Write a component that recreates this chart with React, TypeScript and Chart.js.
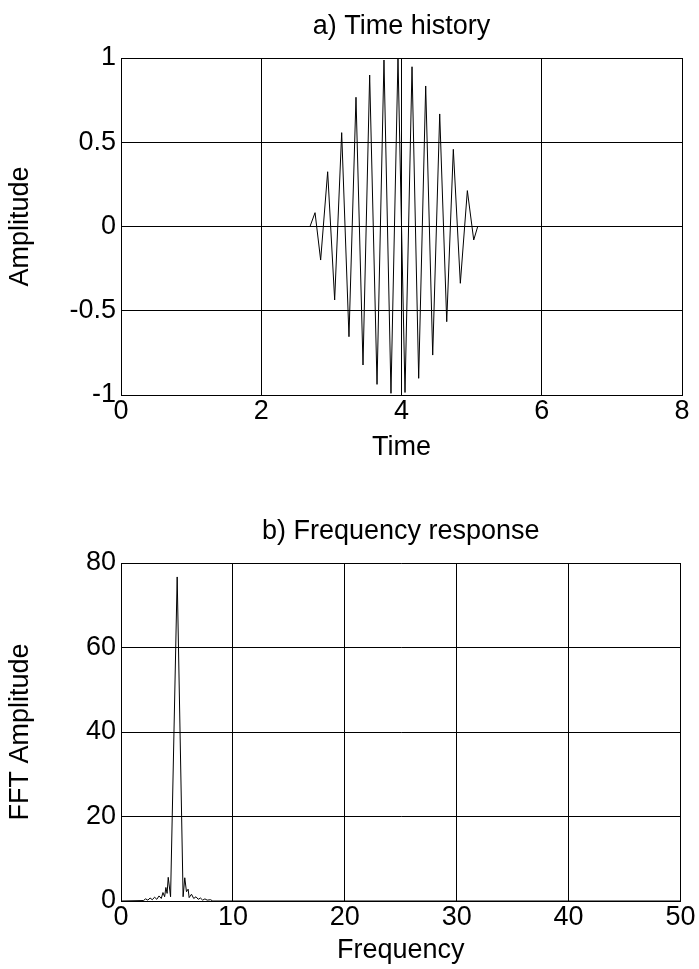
import React, { useEffect, useRef } from "react";
import { Chart, registerables } from "chart.js";

Chart.register(...registerables);

// ---- Data ----
// a) Time history: tone burst (time, amplitude) – extremes
const timeValues = [
  0, 2.695, 2.767, 2.847, 2.947, 3.047, 3.147, 3.251, 3.351, 3.451, 3.546, 3.651,
  3.75, 3.85, 3.95, 4.05, 4.15, 4.245, 4.345, 4.445, 4.545, 4.645, 4.739, 4.839,
  4.939, 5.03, 5.087, 8,
];
const amplitudeValues = [
  0, 0, 0.082, -0.199, 0.325, -0.436, 0.557, -0.654, 0.767, -0.822, 0.899, -0.937,
  0.988, -0.99, 1.0, -0.985, 0.948, -0.901, 0.834, -0.763, 0.668, -0.565, 0.458, -0.337,
  0.213, -0.08, 0, 0,
];

// b) Frequency response (frequency, FFT amplitude)
const freqValues = [
  0, 2.0, 2.2, 2.4, 2.6, 2.8, 3.0, 3.2, 3.4, 3.6, 3.75, 3.9, 4.01, 4.12, 4.22, 4.43,
  5.02, 5.55, 5.7, 5.85, 6.0, 6.09, 6.3, 6.5, 6.7, 6.9, 7.1, 7.3, 7.5, 7.7, 8.0, 8.2, 50,
];
const fftValues = [
  0, 0.1, 0.5, 0.2, 0.7, 0.3, 0.9, 0.4, 1.2, 0.6, 2.0, 1.0, 3.2, 1.8, 5.6, 1.0,
  76.7, 1.0, 5.5, 2.2, 2.8, 0.8, 1.6, 0.6, 1.0, 0.4, 0.7, 0.2, 0.5, 0.2, 0.3, 0, 0,
];

// axis ranges / tick steps
const timeAxis = { min: 0, max: 8, step: 2 };
const ampAxis = { min: -1, max: 1, step: 0.5 };
const freqAxis = { min: 0, max: 50, step: 10 };
const fftAxis = { min: 0, max: 80, step: 20 };

const FONT = "'Liberation Sans', Arial, Helvetica, sans-serif";
const FS = 27;

type Cfg = {
  xs: number[];
  ys: number[];
  xr: { min: number; max: number; step: number };
  yr: { min: number; max: number; step: number };
  title: string;
  xTitle: string;
  yTitle: string;
  titlePadTop: number;
  titlePadBottom: number;
  xAxisHeight: number;
  xTitlePadBottom: number;
};

const fmt = (v: any) => String(Math.round(Number(v) * 1000) / 1000);

function makeChart(canvas: HTMLCanvasElement, c: Cfg) {
  const pts = c.xs.map((x, i) => ({ x, y: c.ys[i] }));
  return new Chart(canvas, {
    type: "scatter",
    data: {
      datasets: [
        {
          data: pts,
          showLine: true,
          borderColor: "#000",
          backgroundColor: "#000",
          borderWidth: 1,
          pointRadius: 0,
          tension: 0,
          fill: false,
        },
      ],
    },
    options: {
      animation: false,
      responsive: false,
      devicePixelRatio: 1,
      layout: { padding: { left: 0, right: 17, top: 0, bottom: 0 } },
      plugins: {
        legend: { display: false },
        tooltip: { enabled: false },
        title: {
          display: true,
          text: c.title,
          color: "#000",
          fullSize: false,
          font: { family: FONT, size: FS, weight: "normal" as any, lineHeight: 1.2 },
          padding: { top: c.titlePadTop, bottom: c.titlePadBottom },
        },
      },
      scales: {
        x: {
          type: "linear",
          min: c.xr.min,
          max: c.xr.max,
          afterFit: (s: any) => {
            s.height = c.xAxisHeight;
          },
          ticks: {
            stepSize: c.xr.step,
            color: "#000",
            padding: 3.5,
            maxRotation: 0,
            autoSkip: false,
            callback: fmt,
            font: { family: FONT, size: FS, lineHeight: 1 },
          },
          grid: { color: "#000", lineWidth: 1, drawTicks: false },
          border: { color: "#000", width: 1 },
          title: {
            display: true,
            text: c.xTitle,
            color: "#000",
            font: { family: FONT, size: FS, lineHeight: 1.2 },
            padding: { top: 0, bottom: c.xTitlePadBottom },
          },
        },
        y: {
          type: "linear",
          min: c.yr.min,
          max: c.yr.max,
          afterFit: (s: any) => {
            s.width = 121;
          },
          ticks: {
            stepSize: c.yr.step,
            color: "#000",
            padding: 5,
            callback: fmt,
            font: { family: FONT, size: FS, lineHeight: 1 },
          },
          grid: { color: "#000", lineWidth: 1, drawTicks: false },
          border: { color: "#000", width: 1 },
          title: {
            display: true,
            text: c.yTitle,
            color: "#000",
            font: { family: FONT, size: FS, lineHeight: 1.2 },
            padding: { top: 4, bottom: 0 },
          },
        },
      },
    },
  });
}

function Plot(props: { top: number; height: number; cfg: Cfg }) {
  const ref = useRef<HTMLCanvasElement | null>(null);
  useEffect(() => {
    if (!ref.current) return;
    const ch = makeChart(ref.current, props.cfg);
    return () => ch.destroy();
  }, []);
  return (
    <canvas
      ref={ref}
      width={699}
      height={props.height}
      style={{
        position: "absolute",
        left: 0,
        top: props.top,
        width: 699,
        height: props.height,
        display: "block",
      }}
    />
  );
}

export default function App() {
  const topCfg: Cfg = {
    xs: timeValues,
    ys: amplitudeValues,
    xr: timeAxis,
    yr: ampAxis,
    title: "a) Time history",
    xTitle: "Time",
    yTitle: "Amplitude",
    titlePadTop: 10.8,
    titlePadBottom: 14.8,
    xAxisHeight: 85,
    xTitlePadBottom: 16.3,
  };
  const botCfg: Cfg = {
    xs: freqValues,
    ys: fftValues,
    xr: freqAxis,
    yr: fftAxis,
    title: "b) Frequency response",
    xTitle: "Frequency",
    yTitle: "FFT Amplitude",
    titlePadTop: 35.8,
    titlePadBottom: 14.8,
    xAxisHeight: 68,
    xTitlePadBottom: 1.8,
  };
  return (
    <div
      style={{
        position: "absolute",
        left: 0,
        top: 0,
        width: 699,
        height: 969,
        background: "#fff",
        overflow: "hidden",
      }}
    >
      <Plot top={0} height={480} cfg={topCfg} />
      <Plot top={480} height={489} cfg={botCfg} />
    </div>
  );
}
